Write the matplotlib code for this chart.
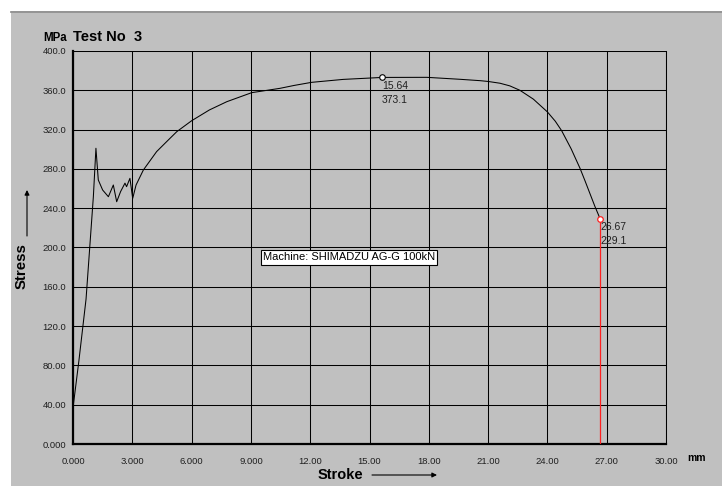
"""Tensile test curve, SHIMADZU AG-G style screen."""
import matplotlib
matplotlib.use('Agg')
import matplotlib.pyplot as plt
from matplotlib.patches import Rectangle
from matplotlib.lines import Line2D

# values
stroke = [0.0, 0.02, 0.3, 0.66, 1.03, 1.16, 1.28, 1.5, 1.79, 2.04, 2.21, 2.41,
          2.63, 2.71, 2.88, 3.02, 3.19, 3.56, 4.23, 4.82, 5.25, 6.0, 6.9, 7.78,
          9.04, 10.47, 11.2, 12.07, 13.67, 15.64, 17.9, 19.58, 20.6, 21.0, 21.6,
          22.1, 22.61, 23.29, 24.0, 24.4, 24.72, 25.2, 25.65, 25.9, 26.15, 26.4, 26.67]
stress = [0, 40, 85, 147.5, 251.7, 301, 268.7, 258.5, 251.7, 263.6, 246.6, 257,
          265.5, 261.9, 270.4, 250, 263.6, 278.9, 297.6, 309.4, 317.9, 329, 340, 348.4,
          357.6, 362, 365, 368.1, 371.1, 373.1, 373.2, 371.2, 369.8, 369, 367.2,
          364.5, 360, 351, 338, 328.5, 318.9, 300.5, 280.6, 268, 255, 242, 229.1]

peak = (15.64, 373.1)
brk = (26.67, 229.1)

x_ticks = [0, 3, 6, 9, 12, 15, 18, 21, 24, 27, 30]
x_labels = ["0.000", "3.000", "6.000", "9.000", "12.00", "15.00", "18.00",
            "21.00", "24.00", "27.00", "30.00"]
y_ticks = [0, 40, 80, 120, 160, 200, 240, 280, 320, 360, 400]
y_labels = ["0.000", "40.00", "80.00", "120.0", "160.0", "200.0", "240.0",
            "280.0", "320.0", "360.0", "400.0"]

plt.rcParams['font.family'] = ['Liberation Sans', 'DejaVu Sans']
W, H = 722, 486
fig = plt.figure(figsize=(W / 100, H / 100), dpi=100, facecolor='white')

# gray panel with a darker top edge
fig.patches.append(Rectangle((11 / W, 0), 1 - 11 / W, (H - 13) / H,
                             transform=fig.transFigure, facecolor='#c0c0c0',
                             edgecolor='none', zorder=-10))
fig.lines.append(Line2D([11 / W, 1], [(H - 12.5) / H, (H - 12.5) / H],
                        transform=fig.transFigure, color='#808080', lw=1.2))

ax = fig.add_axes([73 / W, (H - 444) / H, (666 - 73) / W, (444 - 51) / H])
ax.set_facecolor('#c0c0c0')
ax.set_xlim(0, 30)
ax.set_ylim(0, 400)
ax.set_xticks(x_ticks, x_labels)
ax.set_yticks(y_ticks, y_labels)
ax.tick_params(length=0, labelsize=6.8, colors='#202020')
ax.tick_params(axis='y', pad=5)
ax.tick_params(axis='x', pad=9)
ax.grid(True, color='black', lw=0.75)
ax.spines['top'].set_visible(False)
ax.spines['right'].set_linewidth(0.75)
ax.spines['left'].set_linewidth(1.6)
ax.spines['bottom'].set_linewidth(1.6)

ax.plot(stroke, stress, color='black', lw=0.75, zorder=3)
ax.vlines(brk[0], 0, brk[1], color='#ff2020', lw=0.9, zorder=4)
ax.plot(*peak, 'o', ms=4, mfc='white', mec='black', mew=0.8, zorder=5)
ax.plot(*brk, 'o', ms=4, mfc='white', mec='#ff2020', mew=0.9, zorder=5)

for (px, py) in (peak, brk):
    ax.annotate(f"{px:.2f}", (px, py), xytext=(0, -6), textcoords='offset points',
                ha='left', va='center', fontsize=7.5, color='#202020', zorder=6)
    ax.annotate(f"{py:.1f}", (px, py), xytext=(0, -16), textcoords='offset points',
                ha='left', va='center', fontsize=7.5, color='#202020', zorder=6)

ax.text(9.6, 190, "Machine: SHIMADZU AG-G 100kN", fontsize=8, ha='left', va='center',
        bbox=dict(facecolor='white', edgecolor='black', lw=0.8, boxstyle='square,pad=0.2'),
        zorder=6)

# titles and axis labels
fig.text(55 / W, (H - 38) / H, "MPa", fontsize=8.3, fontweight='bold', ha='center', va='center')
fig.text(73 / W, (H - 37) / H, "Test No  3", fontsize=10.5, fontweight='bold', ha='left', va='center')
fig.text(697 / W, (H - 458) / H, "mm", fontsize=7.5, fontweight='bold', ha='center', va='center')
fig.text(340 / W, (H - 474.5) / H, "Stroke", fontsize=10.5, fontweight='bold', ha='center', va='center')
fig.text(22 / W, (H - 266) / H, "Stress", fontsize=10.8, fontweight='bold', ha='center', va='center',
         rotation=90)
fig.add_artist(plt.Annotation('', xy=(437 / W, (H - 475) / H), xytext=(372 / W, (H - 475) / H),
                              xycoords='figure fraction',
                              arrowprops=dict(arrowstyle='-|>', color='black', lw=0.8,
                                              mutation_scale=7, shrinkA=0, shrinkB=0)))
fig.add_artist(plt.Annotation('', xy=(27 / W, (H - 190) / H), xytext=(27 / W, (H - 236) / H),
                              xycoords='figure fraction',
                              arrowprops=dict(arrowstyle='-|>', color='black', lw=0.8,
                                              mutation_scale=7, shrinkA=0, shrinkB=0)))

fig.savefig('out.png', dpi=100, facecolor='white')
